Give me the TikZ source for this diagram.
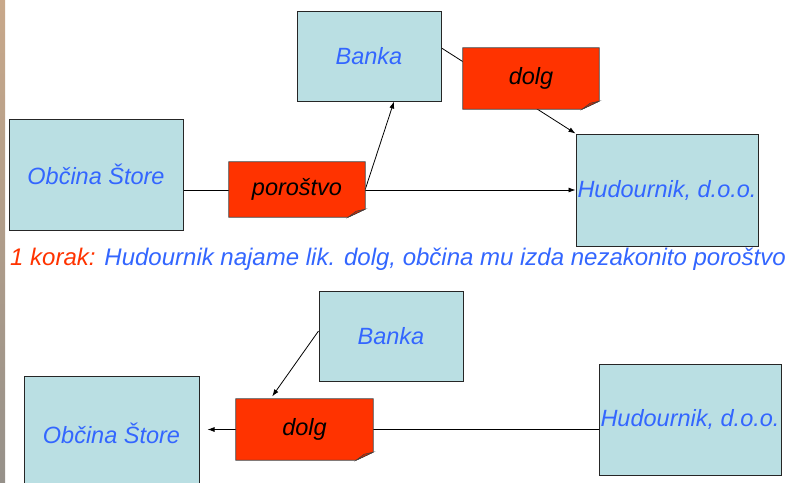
\documentclass[tikz,border=0pt]{standalone}
\usepackage{fontspec}
\setmainfont{Liberation Sans}
\usetikzlibrary{backgrounds,arrows.meta}
\definecolor{boxblue}{RGB}{186,223,227}
\definecolor{txtblue}{RGB}{51,102,255}
\definecolor{notered}{RGB}{255,51,0}
\definecolor{foldred}{RGB}{205,40,0}
\definecolor{phototop}{RGB}{200,168,138}
\definecolor{photobot}{RGB}{150,145,138}

\begin{document}
\begin{tikzpicture}[x=1pt,y=-1pt,>={Latex[length=7pt,width=5pt]},
	firm/.style={draw=black!85,line width=1pt,fill=boxblue,text=txtblue,inner sep=0pt,font=\fontsize{23.5}{26}\selectfont\itshape},
	paper/.style={inner sep=0pt,text=black,font=\fontsize{23.5}{26}\selectfont\itshape},
	papershape/.style={fill=notered,draw=black!75,line width=0.7pt},
	papefold/.style={fill=foldred,draw=black!75,line width=0.5pt},
	flow/.style={line width=0.8pt}]
	\useasboundingbox (0,0) rectangle (786,482);
	\shade[top color=phototop,bottom color=photobot] (0,0) rectangle (5,482);

	% korak 1
	\node[firm,minimum width=174pt,minimum height=111pt] (obcina1) at (96,174.5) {Občina Štore};
	\node[firm,minimum width=144pt,minimum height=90pt] (banka1) at (369,56) {Banka};
	\node[firm,minimum width=182pt,minimum height=112pt] (hud1) at (667,190) {Hudournik, d.o.o.};
	\node[paper,minimum width=136pt,minimum height=55pt] (poro) at (297,189.5) {poroštvo};
	\node[paper,minimum width=136pt,minimum height=61pt] (dolg1) at (531,78.5) {dolg};
	\node[anchor=base west,inner sep=0pt,font=\fontsize{24}{26}\selectfont\itshape] (korak) at (10,265)
		{\textcolor{notered}{1 korak:} \textcolor{txtblue}{Hudournik najame lik. dolg, občina mu izda nezakonito poroštvo}};

	% korak 2
	\node[firm,minimum width=175pt,minimum height=114pt] (obcina2) at (111.5,433) {Občina Štore};
	\node[firm,minimum width=144pt,minimum height=90pt] (banka2) at (391,336) {Banka};
	\node[firm,minimum width=182pt,minimum height=111pt] (hud2) at (690,419.5) {Hudournik, d.o.o.};
	\node[paper,minimum width=137pt,minimum height=61pt] (dolg2) at (304.5,429.5) {dolg};

	\begin{scope}[on background layer]
		\draw[flow,->] (obcina1.east |- hud1.west) -- (hud1.west);
		\draw[flow,->] (poro.east) -- ([xshift=25pt]banka1.south);
		\draw[flow,->] ([yshift=8pt]banka1.east) -- (hud1.north west);
		\draw[flow,->,shorten >=8pt] (hud2.west |- dolg2.center) -- (obcina2.east |- dolg2.center);
		\draw[flow,->,shorten >=3pt] ([yshift=5pt]banka2.west) -- ([xshift=-34pt]dolg2.north);
		\foreach \n in {poro,dolg1,dolg2}{
			\filldraw[papershape] (\n.north west) -- (\n.north east) -- ([yshift=8pt]\n.south east)
				-- ([xshift=-17pt]\n.south east) -- (\n.south west) -- cycle;
			\filldraw[papefold] ([yshift=8pt]\n.south east) -- ([xshift=-17pt]\n.south east)
				-- ([xshift=-9pt,yshift=6pt]\n.south east) -- cycle;
		}
	\end{scope}
\end{tikzpicture}
\end{document}
